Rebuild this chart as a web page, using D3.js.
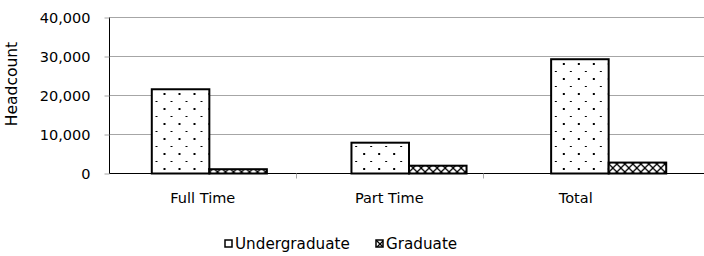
<!DOCTYPE html>
<html>
<head>
<meta charset="utf-8">
<script src="https://cdn.jsdelivr.net/npm/d3@7"></script>
<style>
  body { margin: 0; background: #fff; }
  svg text { font-family: "DejaVu Sans", sans-serif; fill: #000; }
</style>
</head>
<body>
<svg id="chart"></svg>
<script>
var categories = ["Full Time", "Part Time", "Total"];
var series = ["Undergraduate", "Graduate"];
var undergraduate = [21600, 7900, 29300];
var graduate = [1100, 2000, 2800];
var yTicks = [0, 10000, 20000, 30000, 40000];

var width = 704,
    height = 256,
    plotLeft = 109.5,
    plotTop = 17.5,
    plotBottom = 173.5,
    labelRight = 669,
    barRight = 708.5,
    fontSize = 14.5;

var svg = d3.select("svg#chart")
    .attr("width", width)
    .attr("height", height);

// patterns like the old excel fills
var defs = svg.append("defs");

var dots = defs.append("pattern")
    .attr("id", "dots")
    .attr("patternUnits", "userSpaceOnUse")
    .attr("width", 15)
    .attr("height", 15);
dots.append("rect").attr("width", 15).attr("height", 15).attr("fill", "#fff");
dots.append("rect").attr("x", 9).attr("y", 3).attr("width", 2).attr("height", 2).attr("fill", "#000");
dots.append("rect").attr("x", 1).attr("y", 11).attr("width", 2).attr("height", 1).attr("fill", "#000");

var cross = defs.append("pattern")
    .attr("id", "cross")
    .attr("patternUnits", "userSpaceOnUse")
    .attr("width", 8)
    .attr("height", 8);
cross.append("rect").attr("width", 8).attr("height", 8).attr("fill", "#fff");
cross.append("path")
    .attr("d", "M0,0L8,8M8,0L0,8")
    .attr("stroke", "#000")
    .attr("stroke-width", 1.3);

var fills = { "Undergraduate": "url(#dots)", "Graduate": "url(#cross)" };

var data = categories.map(function(c, i) {
    return { category: c, values: [
        { key: "Undergraduate", value: undergraduate[i] },
        { key: "Graduate", value: graduate[i] }
    ] };
});

var y = d3.scaleLinear()
    .domain([0, 40000])
    .range([plotBottom, plotTop]);

var x0 = d3.scaleBand()
    .domain(categories)
    .range([plotLeft, barRight]);

var x1 = d3.scaleBand()
    .domain(series)
    .range([0, x0.bandwidth()])
    .paddingInner(0)
    .paddingOuter(0.735);

var xLabels = d3.scaleBand()
    .domain(categories)
    .range([plotLeft, labelRight]);

// gridlines
svg.append("g")
    .selectAll("line")
    .data(yTicks.filter(function(d) { return d > 0; }))
    .enter()
    .append("line")
        .attr("x1", plotLeft)
        .attr("x2", width)
        .attr("y1", function(d) { return Math.floor(y(d)) + 0.5; })
        .attr("y2", function(d) { return Math.floor(y(d)) + 0.5; })
        .attr("stroke", "#a6a6a6")
        .attr("stroke-width", 1);

// y axis
var yAxis = svg.append("g")
    .attr("transform", "translate(" + plotLeft + ",0)")
    .call(d3.axisLeft(y)
        .tickValues(yTicks)
        .tickFormat(d3.format(","))
        .tickSize(5)
        .tickPadding(14));
yAxis.select(".domain").attr("stroke", "#000").attr("d", "M0," + plotTop + "V" + plotBottom);
yAxis.selectAll(".tick line").attr("stroke", "#a6a6a6");
yAxis.selectAll("text").attr("font-size", fontSize).style("font-family", "'DejaVu Sans', sans-serif");

// bars
var groups = svg.append("g")
    .selectAll("g")
    .data(data)
    .enter()
    .append("g")
        .attr("transform", function(d) { return "translate(" + x0(d.category) + ",0)"; });

groups.selectAll("rect")
    .data(function(d) { return d.values; })
    .enter()
    .append("rect")
        .attr("x", function(d) { return x1(d.key); })
        .attr("y", function(d) { return y(d.value); })
        .attr("width", x1.bandwidth())
        .attr("height", function(d) { return plotBottom - y(d.value); })
        .attr("fill", function(d) { return fills[d.key]; })
        .attr("stroke", "#000")
        .attr("stroke-width", 2);

// x axis
var xAxis = svg.append("g")
    .attr("transform", "translate(0," + plotBottom + ")")
    .call(d3.axisBottom(xLabels).tickSize(0).tickPadding(19));
xAxis.select(".domain").attr("stroke", "#000").attr("d", "M" + plotLeft + ",0H" + width);
xAxis.selectAll("text").attr("font-size", fontSize).style("font-family", "'DejaVu Sans', sans-serif");

svg.append("g")
    .selectAll("line")
    .data(categories.slice(1))
    .enter()
    .append("line")
        .attr("x1", function(d) { return Math.round(xLabels(d)) + 0.5; })
        .attr("x2", function(d) { return Math.round(xLabels(d)) + 0.5; })
        .attr("y1", plotBottom)
        .attr("y2", plotBottom + 5)
        .attr("stroke", "#a6a6a6");

// y title
svg.append("text")
    .attr("transform", "translate(17,84) rotate(-90)")
    .attr("text-anchor", "middle")
    .attr("font-size", 15.5)
    .text("Headcount");

// legend
var legendX = [225, 376];
var legend = svg.append("g")
    .selectAll("g")
    .data(series)
    .enter()
    .append("g")
        .attr("transform", function(d, i) { return "translate(" + legendX[i] + ",240)"; });

legend.append("rect")
    .attr("width", 7)
    .attr("height", 7)
    .attr("fill", function(d) { return fills[d]; })
    .attr("stroke", "#000")
    .attr("stroke-width", 1.5);

legend.append("text")
    .attr("x", 10)
    .attr("y", 9)
    .attr("font-size", 15.2)
    .text(function(d) { return d; });
</script>
</body>
</html>
